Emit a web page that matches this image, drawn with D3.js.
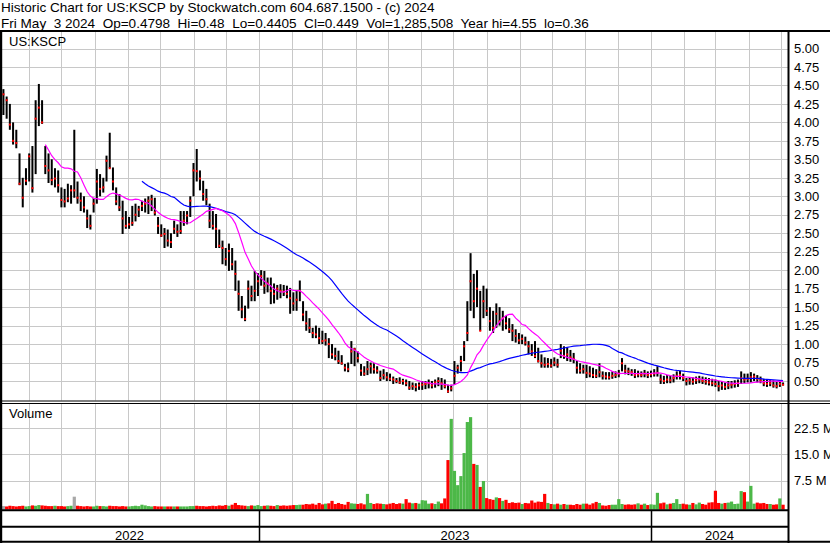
<!DOCTYPE html>
<html><head><meta charset="utf-8">
<script src="https://cdn.jsdelivr.net/npm/d3@7"></script>
<style>
html,body{margin:0;padding:0;background:#fff;}
svg{display:block;font-family:"Liberation Sans",Arial,sans-serif;}
text{white-space:pre;}
</style></head><body>
<svg id="chart" width="830" height="543"></svg>
<script>
const titleLine = "Historic Chart for US:KSCP by Stockwatch.com 604.687.1500 - (c) 2024";
const infoLine = "Fri May  3 2024  Op=0.4798  Hi=0.48  Lo=0.4405  Cl=0.449  Vol=1,285,508  Year hi=4.55  lo=0.36";
const symbolLabel = "US:KSCP";
const volumeLabel = "Volume";
const firstBarDate = Date.UTC(2022, 4, 8);
const barStepDays = 3;

const high = [
4.45,4.35,4.25,4.00,3.90,3.58,3.25,3.38,3.58,3.68,
4.30,4.52,4.30,3.68,3.58,3.50,3.38,3.35,3.12,3.10,
3.17,3.15,3.90,3.20,3.05,3.00,2.82,2.75,2.98,3.37,
3.30,3.25,3.55,3.86,3.39,3.12,3.03,2.94,2.80,2.72,
2.87,2.90,2.87,2.94,2.97,3.00,3.02,2.98,2.72,2.62,
2.57,2.55,2.50,2.67,2.62,2.80,2.80,2.80,3.00,3.45,
3.64,3.35,3.21,3.10,2.90,2.80,2.76,2.55,2.40,2.30,
2.36,2.30,2.13,1.86,1.65,1.52,1.86,1.79,1.99,1.96,
2.00,1.99,1.90,1.90,1.82,1.80,1.81,1.80,1.79,1.76,
1.70,1.72,1.86,1.58,1.45,1.35,1.22,1.25,1.22,1.18,
1.15,1.08,1.00,0.95,0.91,0.85,0.73,0.75,1.04,0.95,
0.90,0.73,0.70,0.77,0.75,0.74,0.70,0.64,0.66,0.62,
0.60,0.56,0.54,0.55,0.53,0.52,0.50,0.48,0.47,0.48,
0.50,0.50,0.52,0.50,0.52,0.55,0.54,0.52,0.45,0.45,
0.77,0.72,0.84,1.04,1.58,2.23,1.95,2.00,1.72,1.79,
1.75,1.50,1.45,1.55,1.50,1.45,1.38,1.35,1.27,1.20,
1.15,1.13,1.10,1.04,1.00,1.04,0.95,0.86,0.82,0.81,
0.80,0.82,0.80,1.00,0.97,0.95,0.92,0.88,0.77,0.74,
0.72,0.72,0.70,0.68,0.66,0.74,0.63,0.62,0.62,0.63,
0.63,0.65,0.81,0.72,0.68,0.66,0.66,0.64,0.63,0.65,
0.63,0.64,0.66,0.70,0.59,0.57,0.58,0.57,0.59,0.63,
0.64,0.60,0.54,0.55,0.55,0.56,0.57,0.56,0.55,0.54,
0.53,0.52,0.50,0.50,0.48,0.50,0.50,0.51,0.52,0.63,
0.60,0.60,0.62,0.60,0.58,0.56,0.53,0.52,0.52,0.51,
0.50,0.50,0.48];

const low = [
4.10,4.05,3.90,3.70,3.65,3.15,2.85,3.15,3.20,3.05,
3.30,3.95,3.98,3.30,3.18,3.15,3.12,3.05,2.85,2.85,
2.92,2.90,2.98,2.90,2.80,2.78,2.57,2.55,2.78,2.90,
3.00,3.05,3.20,3.38,3.08,2.88,2.80,2.49,2.56,2.56,
2.60,2.66,2.72,2.80,2.78,2.76,2.80,2.74,2.49,2.45,
2.30,2.32,2.30,2.49,2.45,2.49,2.60,2.62,2.72,3.00,
3.20,3.08,2.94,2.88,2.57,2.55,2.30,2.30,2.08,2.06,
1.99,2.00,1.72,1.45,1.35,1.31,1.48,1.58,1.58,1.65,
1.79,1.68,1.70,1.54,1.55,1.60,1.62,1.65,1.62,1.41,
1.45,1.45,1.58,1.31,1.18,1.15,1.08,1.08,1.00,1.00,
0.98,0.81,0.80,0.78,0.73,0.72,0.63,0.62,0.73,0.70,
0.75,0.57,0.57,0.58,0.60,0.60,0.60,0.50,0.52,0.50,
0.50,0.46,0.47,0.46,0.45,0.43,0.38,0.38,0.36,0.38,
0.38,0.39,0.40,0.40,0.41,0.43,0.38,0.40,0.34,0.36,
0.45,0.60,0.63,0.77,1.04,1.45,1.35,1.50,1.18,1.35,
1.38,1.18,1.15,1.22,1.25,1.18,1.20,1.15,1.04,1.02,
1.00,1.00,0.98,0.86,0.84,0.81,0.75,0.68,0.68,0.68,
0.68,0.70,0.68,0.81,0.80,0.77,0.76,0.74,0.60,0.60,
0.60,0.54,0.55,0.54,0.54,0.55,0.52,0.52,0.52,0.53,
0.54,0.55,0.63,0.59,0.58,0.57,0.54,0.55,0.55,0.55,
0.54,0.55,0.56,0.56,0.46,0.46,0.47,0.47,0.48,0.52,
0.52,0.50,0.44,0.45,0.45,0.46,0.47,0.46,0.45,0.44,
0.43,0.42,0.36,0.38,0.38,0.39,0.40,0.41,0.42,0.46,
0.47,0.48,0.48,0.50,0.48,0.47,0.43,0.42,0.43,0.41,
0.40,0.42,0.44];

const close = [
4.38,4.30,3.97,3.75,3.72,3.17,2.98,3.21,3.54,3.11,
4.05,4.20,4.00,3.41,3.35,3.22,3.24,3.15,2.95,2.93,
2.97,3.08,3.08,2.98,2.94,2.85,2.70,2.60,2.90,3.20,
3.10,3.12,3.48,3.38,3.20,2.93,2.85,2.70,2.60,2.62,
2.64,2.75,2.82,2.87,2.90,2.94,2.96,2.78,2.60,2.47,
2.49,2.40,2.38,2.56,2.52,2.53,2.67,2.74,2.94,3.35,
3.34,3.24,3.03,2.96,2.67,2.60,2.56,2.33,2.30,2.15,
2.26,2.08,1.95,1.68,1.47,1.34,1.75,1.65,1.72,1.85,
1.92,1.79,1.82,1.72,1.68,1.75,1.72,1.71,1.68,1.62,
1.55,1.60,1.72,1.40,1.28,1.22,1.15,1.13,1.08,1.04,
1.05,1.00,0.86,0.84,0.77,0.74,0.68,0.66,0.90,0.93,
0.81,0.64,0.60,0.66,0.70,0.66,0.64,0.54,0.58,0.55,
0.53,0.52,0.50,0.48,0.50,0.47,0.41,0.43,0.42,0.44,
0.45,0.46,0.47,0.44,0.48,0.50,0.47,0.43,0.36,0.40,
0.57,0.68,0.77,0.97,1.15,1.85,1.58,1.75,1.18,1.58,
1.45,1.31,1.22,1.41,1.31,1.35,1.28,1.20,1.18,1.11,
1.05,1.07,1.02,0.97,0.90,0.84,0.77,0.74,0.72,0.73,
0.71,0.75,0.72,0.91,0.84,0.86,0.82,0.80,0.68,0.64,
0.66,0.61,0.60,0.58,0.57,0.62,0.57,0.56,0.55,0.57,
0.58,0.60,0.74,0.64,0.63,0.62,0.58,0.59,0.58,0.60,
0.58,0.59,0.60,0.61,0.52,0.50,0.52,0.51,0.54,0.57,
0.58,0.54,0.50,0.51,0.49,0.51,0.52,0.50,0.49,0.48,
0.47,0.46,0.43,0.44,0.42,0.44,0.45,0.46,0.47,0.54,
0.52,0.53,0.55,0.56,0.53,0.51,0.47,0.46,0.47,0.44,
0.43,0.46,0.449];

const volumeM = [
0.2,0.1,0.3,0.2,0.1,0.2,0.3,0.1,0.2,0.4,
0.3,0.5,0.4,0.3,0.2,0.2,0.3,0.2,0.2,0.1,
0.2,0.3,2.9,0.3,0.2,0.1,0.2,0.1,0.1,0.3,
0.2,0.2,0.1,0.3,0.2,0.2,0.1,0.2,0.1,0.1,
0.2,0.3,0.2,0.6,0.4,0.2,0.1,0.2,0.1,0.1,
0.1,0.1,0.1,0.1,0.1,0.1,0.1,0.1,0.2,0.2,
0.3,0.2,0.2,0.1,0.2,0.3,0.2,0.4,0.3,0.5,
0.3,0.6,1.1,0.5,0.4,0.3,0.2,0.4,0.3,0.5,
0.2,0.3,0.4,0.3,0.2,0.5,0.3,0.4,0.3,0.4,
0.5,0.5,0.6,0.6,0.8,0.7,0.9,0.6,1.1,0.7,
0.9,1.0,1.7,0.8,1.1,0.8,0.6,1.4,1.0,0.9,
0.8,1.0,0.7,3.7,1.1,0.8,1.0,0.9,0.8,0.7,
0.9,1.1,0.8,1.0,0.9,2.2,1.2,1.0,1.1,0.9,
1.9,1.8,0.9,1.0,0.8,1.5,1.0,2.4,13.4,25.2,
10.3,6.2,8.8,15.4,24.3,25.7,12.3,12.0,5.7,7.4,
2.5,2.2,2.0,2.7,2.5,1.7,2.0,1.1,1.3,1.1,
1.2,0.8,1.1,1.0,1.8,1.2,1.5,1.4,3.7,1.1,
0.8,0.7,0.9,0.6,0.8,0.6,0.6,0.5,0.8,0.6,
0.9,0.9,0.6,1.0,1.4,1.1,0.4,0.3,0.5,0.6,
0.6,2.2,0.8,0.6,0.7,0.6,0.7,1.0,0.6,0.9,
0.5,0.7,0.6,4.0,1.0,1.2,0.7,0.9,1.1,2.2,
0.8,0.9,0.7,0.6,1.1,0.7,1.2,0.8,0.6,1.2,
1.3,4.6,1.1,0.9,1.1,1.2,1.5,0.8,0.9,4.5,
4.2,1.5,6.0,0.9,1.2,1.0,1.1,0.8,0.8,0.6,
0.7,2.4,0.6];

const priceTicks = [0.5,0.75,1,1.25,1.5,1.75,2,2.25,2.5,2.75,3,3.25,3.5,3.75,4,4.25,4.5,4.75,5];
const volumeTicks = [7.5, 15, 22.5];
const yearLabels = ["2022", "2023", "2024"];
const maShortLen = 14;   // ~30 trading days
const maLongLen = 44;    // ~90 trading days

const svg = d3.select("#chart");
const DAY = 86400000;
const bars = close.map((c, i) => ({
  date: new Date(firstBarDate + i * barStepDays * DAY),
  h: high[i], l: low[i], c: c, v: volumeM[i],
  dir: i === 0 ? 0 : Math.sign(c - close[i - 1])
}));

const x = d3.scaleUtc().domain([new Date(Date.UTC(2022,4,1)), new Date(Date.UTC(2024,4,6))]).range([-4.1, 786.3]);
const yP = d3.scaleLinear().domain([0.5, 5]).range([381, 48.5]);
const yV = d3.scaleLinear().domain([0, 22.5]).range([506.8, 428.3]);

const plotL = 0, plotR = 788;
const priceTop = 32, priceBot = 400.5, volTop = 403, volBot = 509.5;
const grid = "#c8c8c8";

// horizontal grids
svg.append("g").selectAll("line").data(priceTicks).join("line")
  .attr("x1", plotL).attr("x2", plotR)
  .attr("y1", d => Math.round(yP(d)) + 0.5).attr("y2", d => Math.round(yP(d)) + 0.5)
  .attr("stroke", grid).attr("stroke-width", 1);
svg.append("g").selectAll("line").data(volumeTicks).join("line")
  .attr("x1", plotL).attr("x2", plotR)
  .attr("y1", d => Math.round(yV(d)) + 0.5).attr("y2", d => Math.round(yV(d)) + 0.5)
  .attr("stroke", grid).attr("stroke-width", 1);

// vertical month grids
const months = d3.utcMonth.range(new Date(Date.UTC(2022,5,1)), new Date(Date.UTC(2024,5,1)));
const vg = svg.append("g");
months.forEach(m => {
  const xx = Math.round(x(m)) + 0.5;
  if (xx > plotR - 2) return;
  vg.append("line").attr("x1", xx).attr("x2", xx).attr("y1", priceTop).attr("y2", priceBot).attr("stroke", grid);
  vg.append("line").attr("x1", xx).attr("x2", xx).attr("y1", volTop).attr("y2", volBot).attr("stroke", grid);
});

// volume bars
const colorFor = d => d.dir > 0 ? "#4cb848" : (d.dir < 0 ? "#ff0000" : "#a8a8a8");
svg.append("g").selectAll("rect").data(bars).join("rect")
  .attr("x", d => x(d.date) - 1.6).attr("width", 3.2)
  .attr("y", d => yV(d.v)).attr("height", d => volBot - yV(d.v))
  .attr("fill", colorFor);

// price bars
svg.append("g").selectAll("rect").data(bars).join("rect")
  .attr("x", d => x(d.date) - 1).attr("width", 2)
  .attr("y", d => yP(d.h)).attr("height", d => Math.max(1, yP(d.l) - yP(d.h)))
  .attr("fill", "#000");
svg.append("g").selectAll("rect").data(bars).join("rect")
  .attr("x", d => x(d.date) - 1).attr("width", 2)
  .attr("y", d => yP(d.c) - 1).attr("height", 2)
  .attr("fill", "#ff0000");

// moving averages
function sma(n) {
  return bars.map((d, i) => i < n - 1 ? null : { date: d.date, v: d3.mean(close.slice(i - n + 1, i + 1)) }).filter(Boolean);
}
const line = d3.line().x(d => x(d.date)).y(d => yP(d.v));
svg.append("path").datum(sma(maLongLen)).attr("d", line).attr("fill", "none").attr("stroke", "#0000ff").attr("stroke-width", 1.2);
svg.append("path").datum(sma(maShortLen)).attr("d", line).attr("fill", "none").attr("stroke", "#ff00ff").attr("stroke-width", 1.2);

// frames
const fr = svg.append("g").attr("stroke", "#000").attr("fill", "none");
fr.append("line").attr("x1", 0).attr("x2", 830).attr("y1", 31).attr("y2", 31).attr("stroke-width", 2);
fr.append("line").attr("x1", 0).attr("x2", 830).attr("y1", 401).attr("y2", 401).attr("stroke-width", 1);
fr.append("line").attr("x1", 0).attr("x2", 830).attr("y1", 403.5).attr("y2", 403.5).attr("stroke-width", 1);
fr.append("line").attr("x1", 0).attr("x2", plotR).attr("y1", 510.2).attr("y2", 510.2).attr("stroke-width", 2);
fr.append("line").attr("x1", 0).attr("x2", plotR).attr("y1", 526.8).attr("y2", 526.8).attr("stroke-width", 2);
fr.append("line").attr("x1", 0).attr("x2", 830).attr("y1", 541.8).attr("y2", 541.8).attr("stroke-width", 2);
fr.append("line").attr("x1", 1).attr("x2", 1).attr("y1", 30).attr("y2", 543).attr("stroke-width", 2.4);
fr.append("line").attr("x1", plotR + 0.5).attr("x2", plotR + 0.5).attr("y1", 30).attr("y2", 543).attr("stroke-width", 2);
const yearBounds = [x(new Date(Date.UTC(2023,0,1))), x(new Date(Date.UTC(2024,0,1)))];
yearBounds.forEach(b => {
  fr.append("line").attr("x1", Math.round(b) + 0.5).attr("x2", Math.round(b) + 0.5).attr("y1", 510).attr("y2", 542).attr("stroke-width", 1.5);
});

// texts
const T = svg.append("g").attr("font-size", 13).attr("fill", "#000");
T.append("text").attr("x", 1).attr("y", 11.5).attr("font-size", 13.55).text(titleLine);
T.append("text").attr("x", 1).attr("y", 27.5).attr("font-size", 13.55).text(infoLine);
T.append("text").attr("x", 9).attr("y", 46).text(symbolLabel);
T.append("text").attr("x", 9).attr("y", 418).text(volumeLabel);
T.selectAll(".pt").data(priceTicks).join("text").attr("class", "pt")
  .attr("x", 794).attr("y", d => yP(d) + 4.7).text(d => d.toFixed(2));
T.selectAll(".vt").data(volumeTicks).join("text").attr("class", "vt")
  .attr("x", 794).attr("y", d => yV(d) + 4.7).text(d => d.toFixed(1) + " M");
const yb = [0, yearBounds[0], yearBounds[1], plotR];
T.selectAll(".yr").data(yearLabels).join("text").attr("class", "yr")
  .attr("x", (d, i) => (yb[i] + yb[i + 1]) / 2).attr("y", 539.5)
  .attr("text-anchor", "middle").text(d => d);
</script>
</body></html>
